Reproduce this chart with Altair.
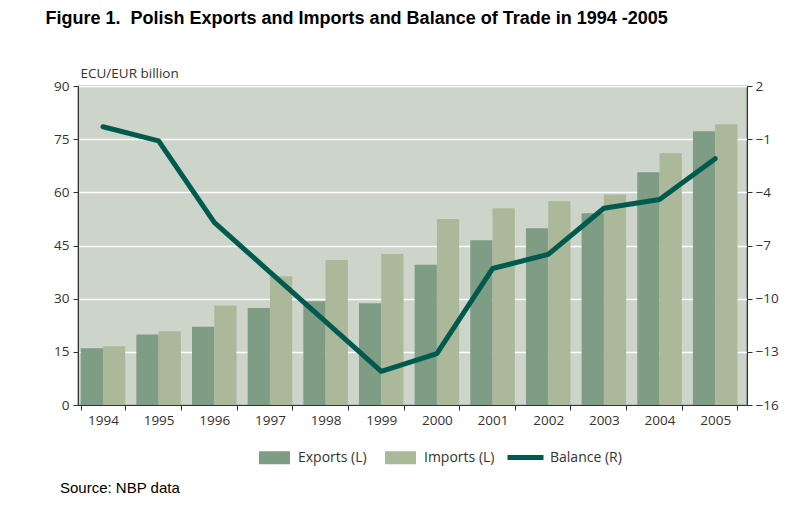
import altair as alt
import pandas as pd

years = [str(y) for y in range(1994, 2006)]
exports = [16.0, 19.9, 22.1, 27.4, 29.3, 28.7, 39.6, 46.5, 49.9, 54.1, 65.7, 77.2]
imports = [16.6, 20.8, 28.1, 36.3, 40.9, 42.6, 52.5, 55.5, 57.5, 59.4, 71.0, 79.2]
balance = [-0.3, -1.1, -5.7, -8.5, -11.3, -14.1, -13.1, -8.3, -7.5, -4.9, -4.4, -2.1]
series_names = ["Exports (L)", "Imports (L)"]
line_name = "Balance (R)"
left_ticks = [0, 15, 30, 45, 60, 75, 90]
right_ticks = [-16, -13, -10, -7, -4, -1, 2]

c_exp = "#7E9D84"
c_imp = "#ABB899"
c_line = "#005A4E"
c_bg = "#CDD5CA"
txt = "#333333"

df_bars = pd.DataFrame({
    "year": years * 2,
    "series": [series_names[0]] * len(years) + [series_names[1]] * len(years),
    "value": exports + imports,
})
df_line = pd.DataFrame({"year": years, "balance": balance, "label": [line_name] * len(years)})

x_scale = alt.Scale(domain=years, paddingInner=0.2, paddingOuter=0.11, align=0.22)
x_axis = alt.Axis(title=None, tickBand="extent", labelFont="Open Sans", labelFontSize=13.5,
                  labelColor=txt, tickColor=txt, domainColor=txt, tickSize=5, labelPadding=3,
                  labelAngle=0)

bars = alt.Chart(df_bars).mark_bar().encode(
    x=alt.X("year:N", scale=x_scale, axis=x_axis),
    xOffset=alt.XOffset("series:N", sort=series_names,
                        scale=alt.Scale(domain=series_names, paddingInner=0, paddingOuter=0)),
    y=alt.Y("value:Q", scale=alt.Scale(domain=[0, 90], nice=False),
            axis=alt.Axis(values=left_ticks, title="ECU/EUR billion", titleAngle=0,
                          titleAlign="left", titleBaseline="alphabetic", titleX=2, titleY=-9,
                          titleFont="Open Sans", titleFontSize=13.5, titleFontWeight="normal",
                          titleColor=txt, labelFont="Open Sans", labelFontSize=13.5,
                          labelColor=txt, tickColor=txt, domainColor=txt, tickSize=5,
                          labelPadding=4, grid=True, gridColor="white", gridWidth=1.5)),
    fill=alt.Fill("series:N", scale=alt.Scale(domain=series_names, range=[c_exp, c_imp]),
                  legend=alt.Legend(orient="none", legendX=181, legendY=356, direction="horizontal",
                                    title=None, symbolType="M-1,-0.42H1V0.42H-1Z", symbolSize=961,
                                    symbolStrokeWidth=0, labelFont="Open Sans", labelFontSize=14,
                                    labelColor=txt, columnPadding=18, labelOffset=8)),
)

line = alt.Chart(df_line).mark_line(strokeWidth=5, strokeCap="round", strokeJoin="round").encode(
    x=alt.X("year:N", scale=x_scale, axis=x_axis),
    y=alt.Y("balance:Q", scale=alt.Scale(domain=[-16, 2], nice=False),
            axis=alt.Axis(orient="right", values=right_ticks, title=None, grid=False,
                          labelFont="Open Sans", labelFontSize=13.5, labelColor=txt,
                          tickColor=txt, domainColor=txt, tickSize=5, labelPadding=3)),
    stroke=alt.Stroke("label:N", scale=alt.Scale(domain=[line_name], range=[c_line]),
                      legend=alt.Legend(orient="none", legendX=427, legendY=351, title=None,
                                        symbolType="stroke", symbolSize=1296, symbolStrokeWidth=5,
                                        labelFont="Open Sans", labelFontSize=14, labelColor=txt,
                                        labelOffset=4)),
)

source = alt.Chart(pd.DataFrame({"t": ["Source: NBP data"]})).mark_text(
    align="left", baseline="alphabetic", font="Liberation Sans", fontSize=15, color="black"
).encode(x=alt.value(-18), y=alt.value(407), text="t:N")

chart = alt.layer(bars, line, source).resolve_scale(y="independent").properties(
    width=669, height=319,
    autosize=alt.AutoSizeParams(type="none"),
    padding={"left": 70, "top": 78, "right": 42, "bottom": 93},
    title=alt.TitleParams("Figure 1.\u00a0 Polish Exports and Imports and Balance of Trade in 1994 -2005",
                          anchor="start", font="Liberation Sans", fontSize=18, fontWeight="bold",
                          color="black", dx=-8, offset=38),
).configure_view(fill=c_bg, stroke="#222222", strokeWidth=1.2)

chart.save("out.html", embed_options={"renderer": "svg", "actions": False})
